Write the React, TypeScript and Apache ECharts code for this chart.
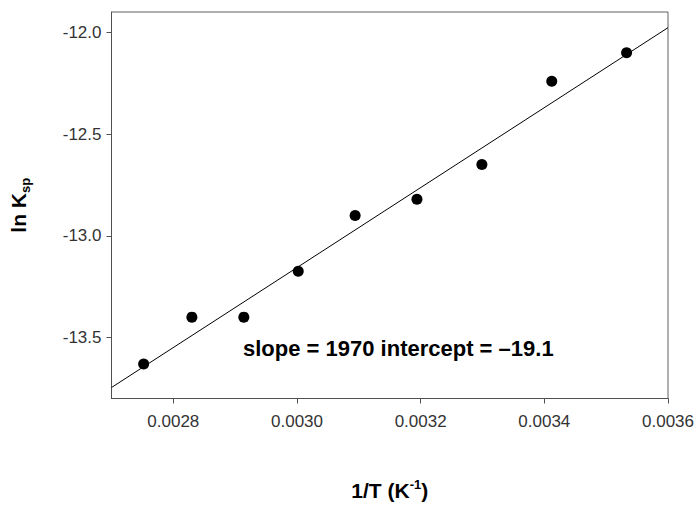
import React, { useEffect, useRef } from "react";
import * as echarts from "echarts";

const invT = [0.002752, 0.00283, 0.002914, 0.003002, 0.003094, 0.003194, 0.003299, 0.003412, 0.003533];
const lnKsp = [-13.63, -13.40, -13.40, -13.175, -12.90, -12.82, -12.65, -12.24, -12.10];
const fitX = [0.0027, 0.0036];
const fitY = [-13.746, -11.977];
const xTicks = [0.0028, 0.003, 0.0032, 0.0034, 0.0036];
const yTicks = [-13.5, -13.0, -12.5, -12.0];
const annotation = "slope = 1970 intercept = \u201319.1";

const FONT = "Arial, 'Liberation Sans', Helvetica, sans-serif";

export default function App() {
  const ref = useRef<HTMLDivElement>(null);
  useEffect(() => {
    document.body.style.margin = "0";
    if (!ref.current) return;
    const chart = echarts.init(ref.current, null, { renderer: "svg" });
    chart.setOption({
      animation: false,
      backgroundColor: "#ffffff",
      grid: { left: 110, top: 12, right: 30, bottom: 102, show: true, borderColor: "#606060", borderWidth: 1 },
      xAxis: {
        type: "value",
        min: 0.0027,
        max: 0.0036,
        axisLine: { show: true, lineStyle: { color: "#505050", width: 1 } },
        axisTick: { show: true, inside: false, length: 5, lineStyle: { color: "#505050" }, customValues: xTicks },
        splitLine: { show: false },
        axisLabel: {
          color: "#333",
          fontFamily: FONT,
          fontSize: 17,
          margin: 14,
          customValues: xTicks,
          formatter: (v: number) => v.toFixed(4),
        },
        name: "{a|1/T (K}{s|-1}{a|)}",
        nameLocation: "middle",
        nameGap: 79,
        nameTextStyle: {
          rich: {
            a: { fontFamily: FONT, fontWeight: "bold", fontSize: 21, color: "#000", lineHeight: 26 },
            s: { fontFamily: FONT, fontWeight: "bold", fontSize: 13, color: "#000", verticalAlign: "top", lineHeight: 26, padding: [0, 0, 8, 0] },
          },
        },
      },
      yAxis: {
        type: "value",
        min: -13.8,
        max: -11.9,
        axisLine: { show: true, lineStyle: { color: "#505050", width: 1 } },
        axisTick: { show: true, inside: false, length: 5, lineStyle: { color: "#505050" }, customValues: yTicks },
        splitLine: { show: false },
        axisLabel: {
          color: "#333",
          fontFamily: FONT,
          fontSize: 17,
          margin: 10,
          customValues: yTicks,
          formatter: (v: number) => v.toFixed(1),
        },
        name: "{a|ln K}{s|sp}",
        nameLocation: "middle",
        nameRotate: 90,
        nameGap: 80,
        nameTextStyle: {
          rich: {
            a: { fontFamily: FONT, fontWeight: "bold", fontSize: 21, color: "#000", lineHeight: 26 },
            s: { fontFamily: FONT, fontWeight: "bold", fontSize: 13, color: "#000", verticalAlign: "bottom", lineHeight: 26 },
          },
        },
      },
      series: [
        {
          type: "line",
          data: fitX.map((x, i) => [x, fitY[i]]),
          symbol: "none",
          lineStyle: { color: "#000", width: 1 },
          silent: true,
        },
        {
          type: "scatter",
          data: invT.map((x, i) => [x, lnKsp[i]]),
          symbol: "circle",
          symbolSize: 11,
          itemStyle: { color: "#000", opacity: 1 },
        },
      ],
      graphic: [
        {
          type: "text",
          left: 243,
          top: 337,
          style: { text: annotation, font: `bold 22px ${FONT}`, fill: "#000" },
        },
      ],
    });
    return () => chart.dispose();
  }, []);
  return <div ref={ref} style={{ width: 698, height: 506 }} />;
}
